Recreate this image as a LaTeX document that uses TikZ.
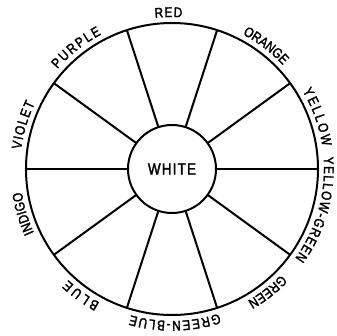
\documentclass[tikz,border=0pt]{standalone}
\usepackage{fontspec}
\setmainfont{Liberation Sans}
\newfontfamily\rimfont[FakeStretch=0.84,FakeBold=2]{Liberation Sans}
\newfontfamily\hubfont[FakeStretch=0.84,FakeBold=2]{Liberation Sans}
\usetikzlibrary{decorations.text}
\newcommand\rimstyle{\rimfont\fontsize{14}{16}\selectfont}
\newcommand\rimlabel[3]{%
  \path[font=\rimstyle,decorate,decoration={text along path,text align={fit to path},
    text={|\rimstyle|#1}}]
    (#2:152) arc[start angle=#2,end angle=#3,radius=152];}
\begin{document}
\begin{tikzpicture}[x=1pt,y=1pt,
  ring/.style={circle,draw,line width=2pt,inner sep=0pt,outer sep=0pt},
  spoke/.style={line width=2pt}]
\useasboundingbox (-172,-166) rectangle (165,169);
\node[ring,minimum size=88pt,font=\hubfont\fontsize{16}{18}\selectfont] (hub) at (0,0) {W\kern1.2pt H\kern1.2pt I\kern1.2pt T\kern1.2pt E};
\node[ring,minimum size=292pt] (rim) at (0,0) {};
\foreach \a in {0,36,...,324}{\draw[spoke] (hub.\a) -- (rim.\a);}
\rimlabel{RED}{96.4}{86.2}
\rimlabel{ORANGE}{62.3}{43.7}
\rimlabel{YELLOW}{30.9}{8.6}
\rimlabel{YELLOW-GREEN}{4.5}{-36}
\rimlabel{GREEN}{-44.1}{-60.2}
\rimlabel{GREEN-BLUE}{-72}{-105.8}
\rimlabel{BLUE}{-118.4}{-133.1}
\rimlabel{INDIGO}{-155.2}{-171.3}
\rimlabel{VIOLET}{172.6}{154.4}
\rimlabel{PURPLE}{138.9}{117.7}
\end{tikzpicture}
\end{document}
